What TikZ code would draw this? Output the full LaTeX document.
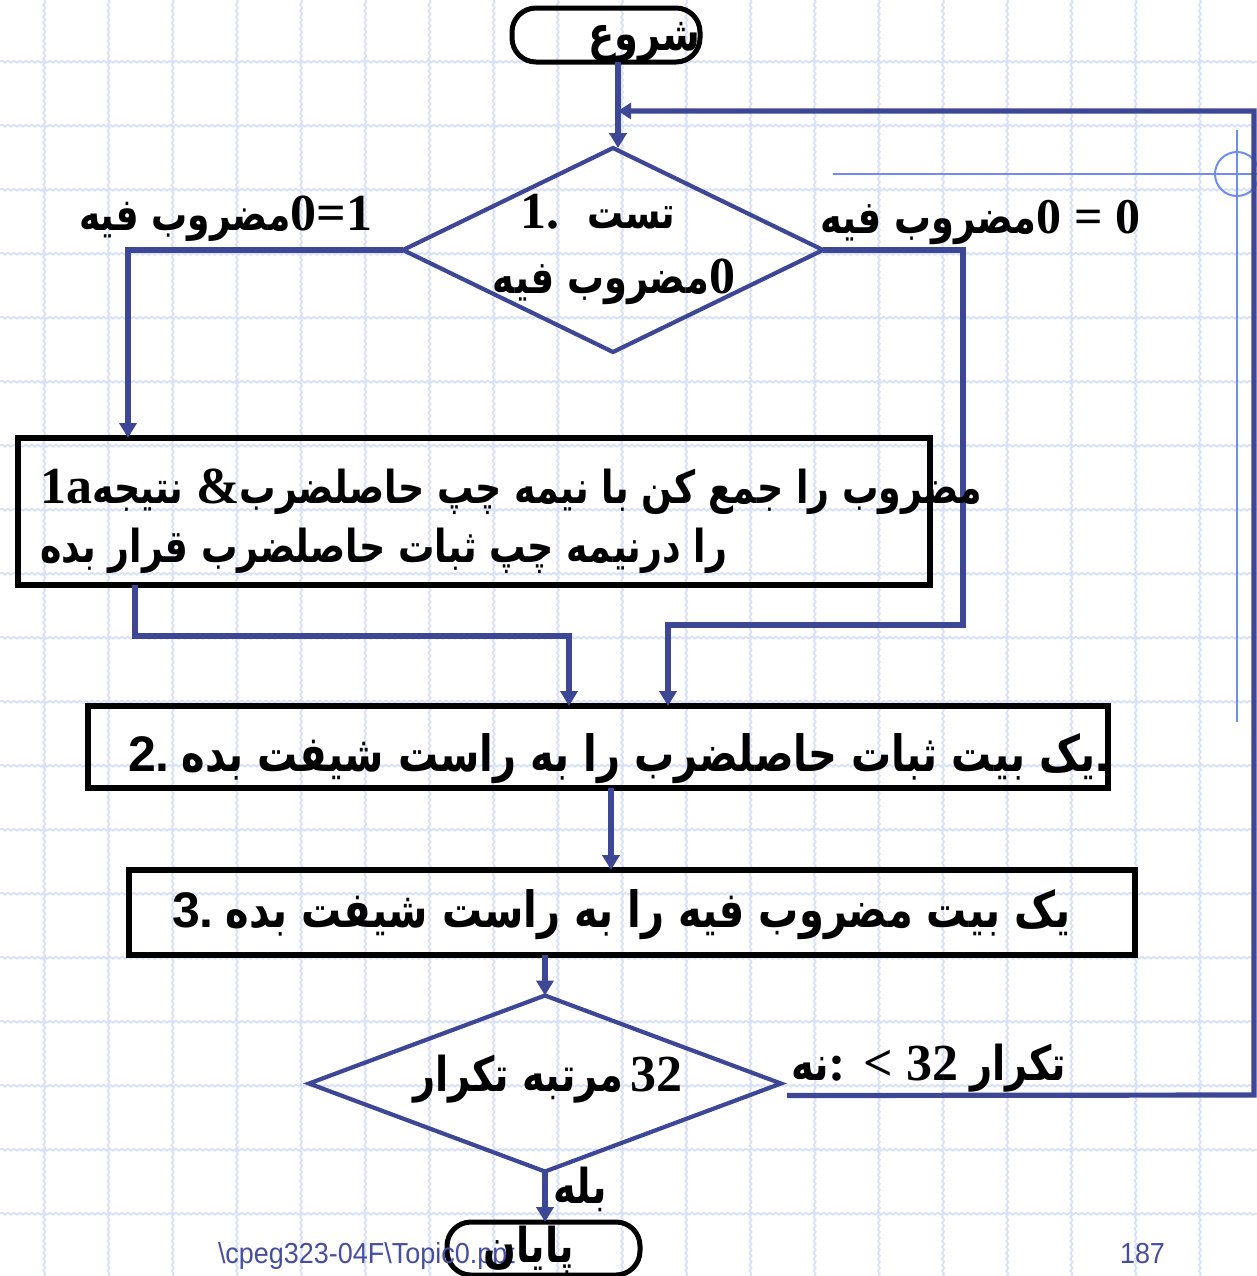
\documentclass[tikz,border=0pt]{standalone}
\usepackage{fontspec}
\usetikzlibrary{arrows.meta,shapes.geometric,decorations.pathmorphing}
\TeXXeTstate=1
\newfontfamily\arb{DejaVu Sans}[Script=Arabic,FakeStretch=0.8]
\newfontfamily\tnr{Liberation Serif}
\newfontfamily\arl{Liberation Sans}
\newfontfamily\nrw{Liberation Sans}[FakeStretch=0.93]
\definecolor{navy}{RGB}{62,70,150}
\definecolor{gridc}{RGB}{216,224,251}
\definecolor{cross}{RGB}{112,140,240}
\definecolor{foot}{RGB}{70,78,160}
\newcommand\AR[2][24]{{\fontsize{#1}{#1}\selectfont\arb\bfseries\beginR #2\endR}}
\newcommand\TB[2][26]{{\fontsize{#1}{#1}\selectfont\tnr\bfseries #2}}
\newcommand\AB[2][25]{{\fontsize{#1}{#1}\selectfont\arl\bfseries #2}}
\begin{document}
\begin{tikzpicture}[x=0.5pt,y=-0.5pt,
  navyline/.style={draw=navy,line width=2.6pt},
  arr/.style={navyline,-{Triangle[length=7.5pt,width=8.5pt]}},
  boxs/.style={draw=black,line width=2.8pt,rectangle,inner sep=0pt,outer sep=0pt},
  term/.style={draw=black,line width=2.5pt,rectangle,rounded corners=12pt,inner sep=0pt,outer sep=0pt},
  dia/.style={draw=navy,line width=2.1pt,diamond,inner sep=0pt,outer sep=0pt},
  txt/.style={inner sep=0pt,outer sep=0pt,text=black},
  gridl/.style={draw=gridc,line width=0.9pt,decorate,decoration={snake,amplitude=0.5pt,segment length=3pt}},
  crossl/.style={draw=cross,line width=1pt},
]
\useasboundingbox (0,0) rectangle (1257,1276);
\clip (0,0) rectangle (1257,1276);
% background grid
\foreach \k in {0,...,18}{
  \draw[gridl] ({44.3+64.2*\k},0) -- ({44.3+64.2*\k},1276);
  \draw[gridl] (0,{61.7+64*\k}) -- (1257,{61.7+64*\k});
}
% crosshair
\draw[crossl] (833,174) -- (1257,174);
\draw[crossl] (1237,130) -- (1237,722);
\draw[crossl] (1237,174) circle[radius=11pt];
% shapes
\node[term,minimum width=94pt,minimum height=27pt] (start) at (606,35) {};
\node[dia,minimum width=210pt,minimum height=102pt] (d1) at (613,250) {};
\node[boxs,minimum width=456pt,minimum height=73.5pt] (b1) at (474,511.5) {};
\node[boxs,minimum width=510pt,minimum height=41pt] (b2) at (598,747) {};
\node[boxs,minimum width=503pt,minimum height=42.5pt] (b3) at (632,912.5) {};
\node[dia,minimum width=236pt,minimum height=88pt] (d2) at (545,1083.5) {};
\node[term,minimum width=96.5pt,minimum height=26.5pt] (end) at (543.5,1248.5) {};
% helper coordinates
\coordinate (xL) at (128,0);
\coordinate (xR) at (963,0);
\coordinate (yR) at (0,625);
\coordinate (xR2) at (668,0);
\coordinate (xB) at (135,0);
\coordinate (yB) at (0,636);
\coordinate (xB2) at (569,0);
\coordinate (x2) at (611,0);
\coordinate (xT) at (618,0);
\coordinate (lr) at (1254,1095);
\coordinate (lt) at (1254,111);
% connectors
\draw[arr] (xT |- start.south) -- (xT |- d1.north);
\draw[arr] (d1.west) -| (xL |- b1.north);
\draw[arr] (d1.east) -| (xR |- yR) -| (xR2 |- b2.north);
\draw[arr] (xB |- b1.south) |- (xB2 |- yB) -- (xB2 |- b2.north);
\draw[arr] (x2 |- b2.south) -- (x2 |- b3.north);
\draw[arr] (d2.north |- b3.south) -- (d2.north);
\draw[arr] (d2.south) -- (d2.south |- end.north);
\draw[navyline,-{Triangle[length=6.5pt,width=8pt]}] ([shift={(3pt,-6pt)}]d2.east) -- (lr) -- (lt) -- (xT |- lt);
% texts
\node[txt,anchor=base east] (tstart) at (700,50) {\AR{شروع}};
\node[txt,anchor=base east] (tl) at (372,230) {\AR[22.5]{مضروب فیه}\TB{0=1}};
\node[txt,anchor=base west] (td1a) at (520,228) {\TB{1.}\hspace{14pt}\AR[22.5]{تست}};
\node[txt,anchor=base east] (td1b) at (735,293) {\AR[23]{مضروب فیه}\TB{0}};
\node[txt,anchor=base east] (tr) at (1140,233) {\AR[23]{مضروب فیه}\TB[25]{0 = 0}};
\node[txt,anchor=base west] (tb1a) at (40,503) {\TB{1a}\AR[22.7]{نتیجه}\TB{ \&}\AR[22.7]{مضروب را جمع کن با نیمه چپ حاصلضرب}};
\node[txt,anchor=base west] (tb1b) at (40,562) {\AR[22.7]{را درنیمه چپ ثبات حاصلضرب قرار بده}};
\node[txt,anchor=base west] (tb2) at (128,771) {\AB{2.}\hspace{6pt}\AR[25]{یک بیت ثبات حاصلضرب را به راست شیفت بده}\AB{.}};
\node[txt,anchor=base west] (tb3) at (172,927) {\AB{3.}\hspace{6pt}\AR[25]{یک بیت مضروب فیه را به راست شیفت بده}};
\node[txt,anchor=base east] (td2) at (682,1091) {\AR{مرتبه تکرار} \TB{32}};
\node[txt,anchor=base east] (tno) at (1066,1080) {\AR{نه}\TB{: \textless{} 32}\hspace{6pt}\AR{تکرار}};
\node[txt,anchor=base east] (tyes) at (607,1203) {\AR{بله}};
\node[txt,anchor=base west,text=foot] (foot1) at (218,1263) {\fontsize{14.5}{14.5}\selectfont\nrw\textbackslash cpeg323-04F\textbackslash Topic0.ppt};
\node[txt,anchor=base west,text=foot] (foot2) at (1120,1263) {\fontsize{14.5}{14.5}\selectfont\nrw 187};
\node[txt,anchor=base east] (tend) at (574,1262) {\AR{پایان}};
\end{tikzpicture}
\end{document}
